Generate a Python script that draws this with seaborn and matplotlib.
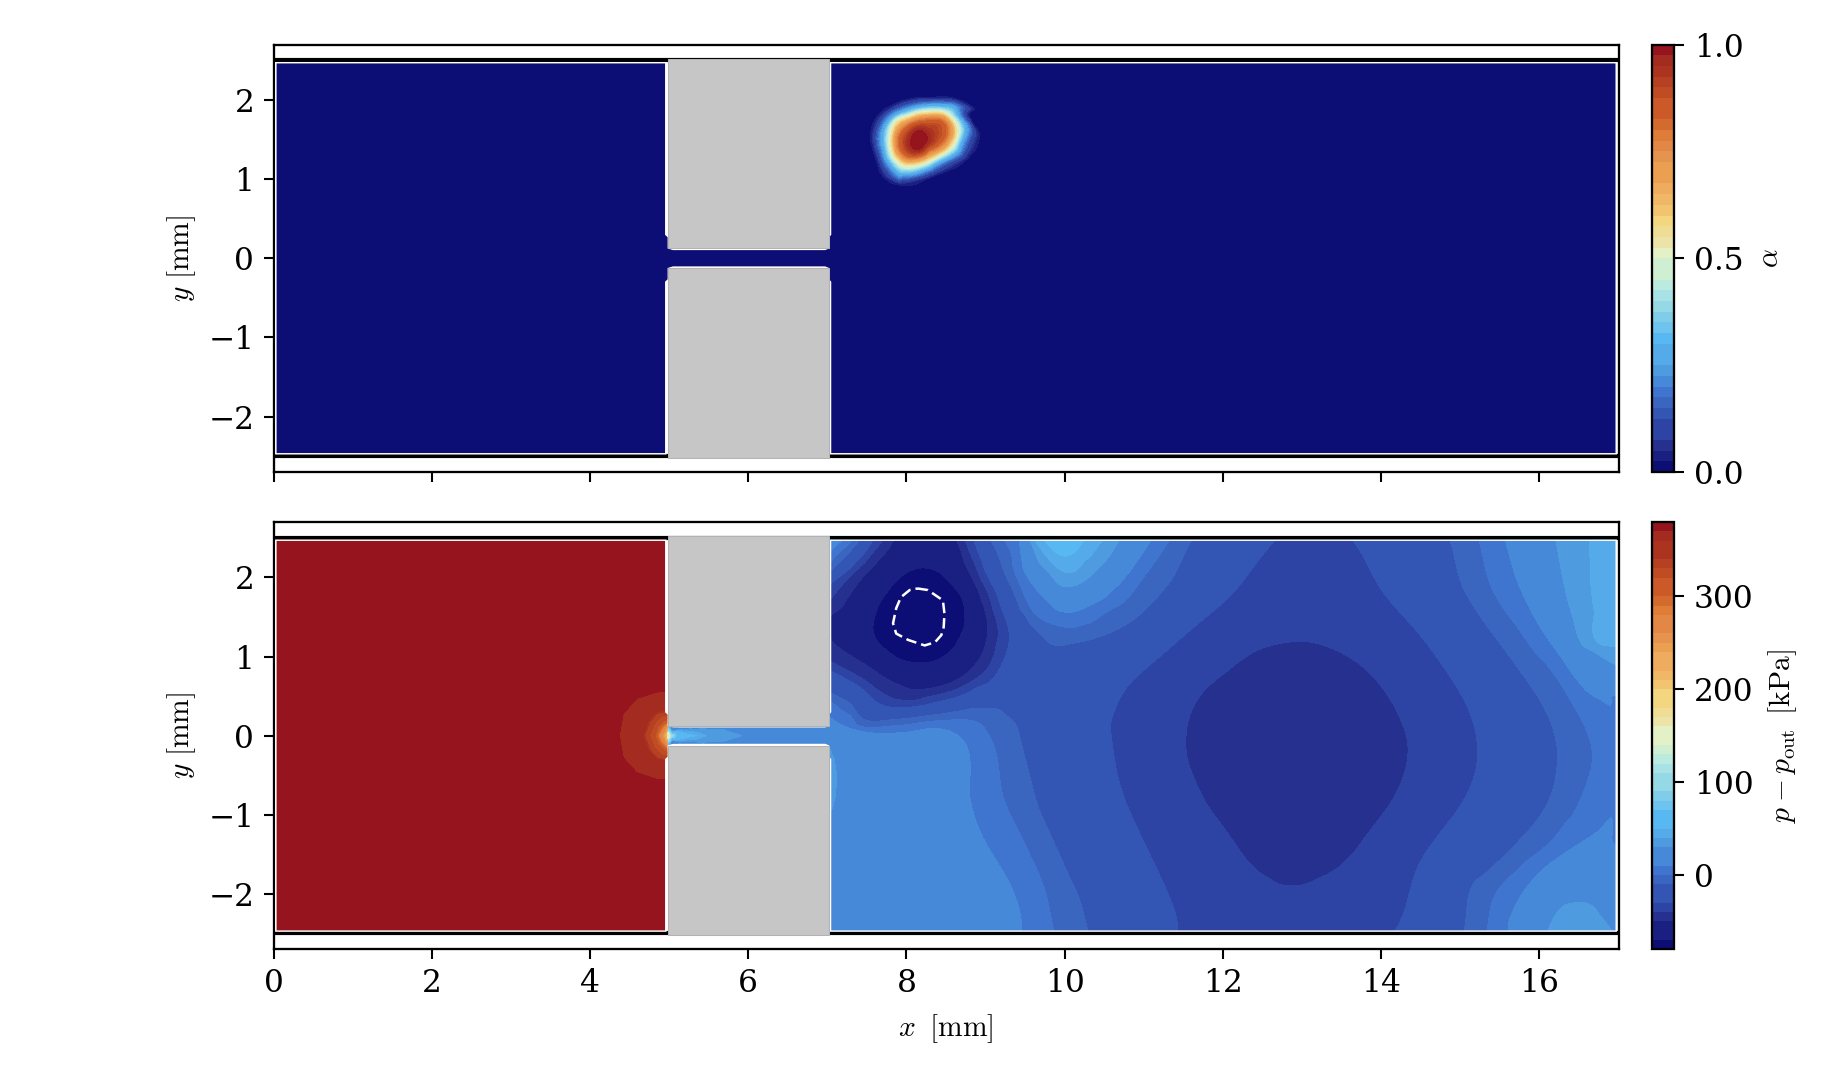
import numpy as np
import matplotlib
matplotlib.use("Agg")
import matplotlib.pyplot as plt
from matplotlib.colors import ListedColormap, BoundaryNorm
from matplotlib.patches import Polygon, Rectangle
from matplotlib.tri import Triangulation, UniformTriRefiner, CubicTriInterpolator
import seaborn as sns

# Shared discrete colour bands, lowest to highest
band_colors = [
    "#0c0e76", "#1a2082", "#25308f", "#2d44a4", "#3355b3", "#3a66c0", "#3f75cf",
    "#4789d9", "#4f9be0", "#55abea", "#58b9f2", "#6ec4ee", "#80cde9", "#95d9e6",
    "#a8e2e6", "#bbeadf", "#d0efd2", "#e4f1c6", "#ece3a8", "#efdd96", "#f4d580",
    "#f3c470", "#f0b866", "#efab5e", "#eaa050", "#e69350", "#e38746", "#df7c38",
    "#d46b2e", "#cc5a28", "#c04c24", "#b54022", "#ab3320", "#a32b20", "#95141e",
]

alpha_levels = [0, .025, .05, .075, .125, .15, .175, .2, .225, .25, .3, .325, .35, .375,
                .4, .425, .45, .5, .525, .55, .575, .6, .625, .65, .675, .725, .75, .775,
                .8, .825, .875, .9, .925, .95, .975, 1]
p_levels = [-80, -70, -50, -40, -30, -10, 0, 10, 30, 40, 50, 70, 80, 90, 110, 120, 130, 140,
            160, 170, 180, 200, 210, 220, 240, 250, 260, 280, 290, 300, 320, 330, 340, 360,
            370, 380]

x_ticks = [0, 2, 4, 6, 8, 10, 12, 14, 16]
y_ticks = [-2, -1, 0, 1, 2]
alpha_ticks = [0.0, 0.5, 1.0]
p_ticks = [0, 100, 200, 300]

# Volume fraction sampled around the bubble
alpha_x = [7.0, 9.4, 9.4, 7.0,
           7.40, 7.50, 7.85, 8.10, 8.34, 8.65, 8.92, 9.07, 8.88, 8.38, 7.88, 7.60, 7.47,
           7.54, 7.62, 7.91, 8.10, 8.34, 8.59, 8.80, 8.93, 8.76, 8.34, 7.91, 7.70, 7.60,
           7.68, 7.79, 8.00, 8.21, 8.40, 8.59, 8.76, 8.69, 8.34, 7.91, 7.77,
           7.79, 7.87, 8.23, 8.53, 8.65, 8.59, 8.27, 8.00, 7.85,
           7.87, 7.98, 8.23, 8.48, 8.55, 8.46, 8.21, 8.00, 7.90,
           8.02, 8.15, 8.29, 8.27, 8.15, 8.04, 8.15]
alpha_y = [2.4, 2.4, 0.5, 0.5,
           1.54, 1.88, 2.12, 2.17, 2.18, 2.17, 1.88, 1.54, 1.15, 0.90, 0.78, 0.90, 1.22,
           1.54, 1.79, 1.98, 2.03, 2.04, 2.03, 1.79, 1.54, 1.24, 1.03, 0.92, 1.03, 1.28,
           1.54, 1.77, 1.88, 1.93, 1.94, 1.92, 1.66, 1.41, 1.16, 1.05, 1.20,
           1.49, 1.73, 1.85, 1.81, 1.62, 1.43, 1.22, 1.16, 1.26,
           1.49, 1.68, 1.77, 1.75, 1.60, 1.43, 1.28, 1.26, 1.35,
           1.49, 1.64, 1.58, 1.45, 1.35, 1.39, 1.49]
alpha_v = [0] * 17 + [0.02] * 13 + [0.25] * 11 + [0.5] * 9 + [0.75] * 9 + [0.95] * 6 + [1.0]

# Pressure upstream of the orifice plate
up_x = [0, 0, 0, 4.96, 4.96, 4.0, 4.2, 4.2, 4.5, 4.5, 4.98, 4.98,
        4.37, 4.42, 4.42, 4.59, 4.59, 4.84, 4.84, 4.98, 4.98,
        4.67, 4.74, 4.74, 4.84, 4.84, 4.98, 4.98,
        4.69, 4.76, 4.76, 4.85, 4.85, 4.98, 4.98,
        4.82, 4.86, 4.86, 4.94, 4.94, 4.98, 4.98,
        4.86, 4.925, 4.925, 4.99, 4.99,
        4.94, 4.985, 4.985, 5.0]
up_y = [2.5, -2.5, 0, 2.5, -2.5, 0, 0.6, -0.6, 0.8, -0.8, 0.9, -0.9,
        0, .28, -.28, .47, -.47, .55, -.55, .56, -.56,
        0, .19, -.19, .30, -.30, .33, -.33,
        0, .18, -.18, .28, -.28, .31, -.31,
        0, .11, -.11, .19, -.19, .22, -.22,
        0, .12, -.12, .17, -.17,
        0, .12, -.12, 0]
up_p = [375] * 12 + [370] * 9 + [360] * 7 + [340] * 7 + [320] * 7 + [290] * 5 + [240] * 3 + [170]

# Pressure along the orifice throat
throat_x = [4.98, 5.0, 5.0, 5.03, 5.03, 5.03, 5.1, 5.1, 5.1, 5.1, 5.1, 5.2, 5.2, 5.2, 5.2, 5.2,
            5.35, 5.35, 5.35, 5.35, 5.35, 5.5, 5.5, 5.5, 5.8, 5.8, 5.8, 6.1, 6.1, 6.1,
            7.05, 7.05, 7.05]
throat_y = [0, .14, -.14, 0, .14, -.14, 0, .05, -.05, .14, -.14, 0, .05, -.05, .14, -.14,
            0, .05, -.05, .14, -.14, 0, .14, -.14, 0, .14, -.14, 0, .14, -.14,
            0, .14, -.14]
throat_p = [170, 30, 30, 100, -50, -50, 65, 50, 50, -55, -55, 58, 42, 42, -5, -5,
            50, 38, 38, 12, 12, 38, 22, 22, 32, 24, 24, 27, 25, 25, 25, 25, 25]

# Pressure downstream, sampled along its isobars
down_x = [
    7.58, 7.66, 7.91, 8.21, 8.50, 8.71, 8.74, 8.63, 8.42, 8.21, 7.91, 7.66,
    7.87, 7.49, 7.02, 7.02, 7.49, 7.91, 8.12, 8.54, 8.88, 9.03, 8.92, 8.76, 8.61,
    7.72, 7.37, 7.02, 7.02, 7.41, 7.83, 8.12, 8.59, 8.97, 9.16, 9.05, 8.88, 8.73,
    7.60, 7.28, 7.02, 7.02, 7.37, 7.79, 8.33, 8.97, 9.30, 9.18, 8.99, 8.84,
    12.70, 12.12, 11.49, 10.86, 10.60, 10.60, 10.73, 11.07, 11.41, 11.44,
    13.61, 13.98, 14.61, 15.07, 15.22, 15.07, 14.53, 14.15,
    7.43, 7.20, 7.02, 7.02, 7.28, 7.47, 8.33, 9.13, 9.28, 9.43, 9.56, 9.68, 9.85, 10.02, 10.19, 10.30,
    9.05, 9.26, 9.51, 9.77, 10.02, 10.44, 10.86, 11.28, 11.62,
    14.86, 15.07, 15.66, 16.13, 16.23, 16.08, 15.41, 15.04,
    7.02, 7.28, 7.45, 7.91, 8.76, 9.05, 9.22, 9.51, 9.72, 9.87,
    7.34, 7.02, 9.22, 9.39, 9.60, 10.02, 10.65, 11.03, 11.34,
    15.23, 15.41, 16.08, 16.50, 16.65, 16.55, 16.08, 15.45, 15.33,
    7.02, 7.15, 7.45, 8.33, 8.67, 8.80, 8.92, 9.34, 9.45,
    7.22, 7.02, 9.42, 9.77, 10.02, 10.65, 11.11,
    15.56, 15.75, 16.21, 16.67, 16.84, 16.98, 16.98, 16.86, 16.67, 16.08, 15.62, 15.60,
    9.55, 9.77, 10.02, 10.44, 10.71,
    16.20, 16.42, 16.72, 16.98, 16.10, 16.29, 16.46, 16.65, 16.93,
    9.60, 9.81, 10.02, 10.27, 10.50, 16.63, 16.69, 16.76, 16.98,
    9.72, 10.02, 10.27,
    11.53, 11.70, 12.12, 12.54, 13.01, 13.43, 13.94, 14.23, 14.34, 14.19, 13.77, 13.26, 12.86, 12.54, 12.12, 11.70,
    8.20, 12.90, 10.00, 16.98, 16.98, 7.02, 7.02, 7.02, 8.00, 8.00, 16.98, 16.50,
    7.50, 8.50, 8.30, 7.50, 7.02, 8.90, 8.00, 7.50,
]
down_y = [
    1.42, 1.67, 1.99, 2.12, 1.99, 1.71, 1.46, 1.16, 0.97, 0.92, 0.97, 1.16,
    2.50, 2.05, 1.49, 1.25, 0.89, 0.64, 0.58, 0.66, 0.91, 1.33, 1.80, 2.13, 2.50,
    2.50, 2.09, 1.70, 0.95, 0.74, 0.47, 0.45, 0.57, 0.79, 1.29, 1.75, 2.13, 2.50,
    2.50, 2.11, 1.90, 0.83, 0.64, 0.36, 0.41, 0.64, 1.21, 1.67, 2.09, 2.50,
    2.50, 1.80, 1.25, 0.70, 0.24, -0.10, -0.73, -1.49, -2.29, -2.50,
    2.50, 1.88, 1.12, 0.41, -0.22, -0.77, -1.53, -2.50,
    2.50, 2.24, 2.07, 0.55, 0.41, 0.20, 0.26, 0.34, 0.24, -0.01, -0.52, -0.94, -1.32, -1.70, -2.08, -2.50,
    2.50, 2.01, 1.50, 1.21, 1.15, 1.25, 1.46, 1.88, 2.50,
    2.50, 1.80, 0.95, 0.20, -0.27, -0.90, -1.66, -2.50,
    0.45, 0.26, 0.11, 0.13, 0.20, -0.01, -0.77, -1.40, -1.87, -2.50,
    2.50, 2.17, 2.50, 2.01, 1.57, 1.37, 1.63, 2.05, 2.50,
    2.50, 1.84, 0.91, 0.26, -0.10, -0.73, -1.40, -1.99, -2.50,
    0.24, 0.15, 0.05, 0.09, -0.01, -0.77, -1.19, -1.95, -2.50,
    2.50, 2.32, 2.50, 1.71, 1.56, 1.88, 2.50,
    2.50, 1.88, 1.08, 0.51, 0.41, 0.51, -1.40, -1.07, -1.26, -1.66, -2.33, -2.50,
    2.50, 2.09, 1.88, 2.13, 2.50,
    2.50, 1.50, 1.04, 0.89, -2.50, -2.16, -2.11, -2.14, -2.50,
    2.50, 2.22, 2.06, 2.22, 2.50, 2.50, 1.59, 1.16, 1.12,
    2.50, 2.27, 2.50,
    -0.14, 0.49, 0.87, 1.12, 1.19, 1.08, 0.70, 0.24, -0.18, -0.73, -1.32, -1.78, -1.90, -1.78, -1.32, -0.69,
    1.50, -0.30, 2.50, 2.50, -0.20, 2.50, -2.50, 0.00, -1.00, -2.50, -2.50, -2.40,
    -1.50, -2.00, -0.50, -0.50, -1.80, -2.40, -0.10, -2.40,
]
down_p = (
    [-70] * 12 + [-50] * 13 + [-40] * 13 + [-30] * 12 + [-30] * 10 + [-30] * 8
    + [-10] * 16 + [-10] * 9 + [-10] * 8 + [0] * 10 + [0] * 9 + [0] * 9
    + [10] * 9 + [10] * 7 + [10] * 12 + [30] * 5 + [30] * 9 + [40] * 9 + [50] * 3
    + [-40] * 16
    + [-78, -47, 65, 45, 5, 25, 20, 25, 22, 20, 27, 33]
    + [20, 20, 20, 20, 20, 20, 20, 20]
)

# Gas-liquid interface in the pressure panel
interface_x = [8.14, 8.27, 8.46, 8.48, 8.47, 8.44, 8.36, 8.23, 8.02, 7.87, 7.83, 7.87, 7.93, 8.04, 8.14]
interface_y = [1.86, 1.84, 1.71, 1.54, 1.37, 1.27, 1.18, 1.14, 1.21, 1.29, 1.42, 1.61, 1.75, 1.84, 1.86]

# Fluid boundary, including the small recesses at the plate corners
fluid_x = [0.03, 4.958, 4.958, 4.99, 4.99, 5.05, 6.97, 7.015, 7.015, 7.04, 7.04, 16.97,
           16.97, 7.04, 7.04, 7.015, 7.015, 6.97, 5.05, 4.99, 4.99, 4.958, 4.958, 0.03]
fluid_y = [2.47, 2.47, 0.30, 0.27, 0.13, 0.112, 0.112, 0.13, 0.27, 0.30, 2.47, 2.47,
           -2.47, -2.47, -0.30, -0.27, -0.13, -0.112, -0.112, -0.13, -0.27, -0.30, -2.47, -2.47]

sns.set_theme(style="ticks", rc={
    "axes.linewidth": 0.55,
    "xtick.major.width": 0.5, "ytick.major.width": 0.5,
    "xtick.major.size": 2.4, "ytick.major.size": 2.4,
    "xtick.major.pad": 2.2, "ytick.major.pad": 2.2,
    "xtick.labelsize": 7.5, "ytick.labelsize": 7.5,
    "axes.labelsize": 7.1,
    "axes.edgecolor": "black", "xtick.color": "black", "ytick.color": "black",
    "text.color": "black", "axes.labelcolor": "black",
})
plt.rcParams["font.family"] = ["DejaVu Serif"]
plt.rcParams["mathtext.fontset"] = "cm"

band_cmap = ListedColormap(sns.color_palette(band_colors))
W, H = 1839, 1080
fig = plt.figure(figsize=(W / 300, H / 300), dpi=300)


def axes_box(left, top, right, bottom):
    return [left / W, 1 - bottom / H, (right - left) / W, (bottom - top) / H]


ax_a = fig.add_axes(axes_box(273.5, 44.5, 1618.6, 472))
ax_p = fig.add_axes(axes_box(273.5, 522, 1618.6, 949.3))
cax_a = fig.add_axes(axes_box(1651.6, 44.5, 1674.5, 472))
cax_p = fig.add_axes(axes_box(1651.6, 522, 1674.5, 949.3))


def smooth(x, y, v):
    tri = Triangulation(np.asarray(x, float), np.asarray(y, float))
    z = np.asarray(v, float)
    interp = CubicTriInterpolator(tri, z, kind="geom")
    return UniformTriRefiner(tri).refine_field(z, triinterpolator=interp, subdiv=3)


def build_panel(ax):
    """Draw walls and the fluid outline; returns the patch that clips the fields."""
    ax.set_xlim(0, 17)
    ax.set_ylim(-2.7, 2.7)
    for wall_y in (2.5, -2.5):
        ax.plot([0, 17], [wall_y, wall_y], color="black", lw=1.0, solid_capstyle="butt", zorder=1)
    patch = Polygon(np.column_stack([fluid_x, fluid_y]), closed=True,
                    facecolor="none", edgecolor="white", lw=0.35, zorder=4)
    ax.add_patch(patch)
    return patch


def add_plate(ax):
    for y0, h in ((0.128, 2.392), (-2.52, 2.392)):
        ax.add_patch(Rectangle((4.987, y0), 2.03, h, facecolor="#c6c6c6",
                               edgecolor="#b3b3b3", lw=0.25, zorder=5))


def finish_axes(ax):
    ax.set_xticks(x_ticks)
    ax.set_yticks(y_ticks)
    ax.set_ylabel(r"$y\ \mathrm{[mm]}$", labelpad=2.5)


# Upper panel: volume fraction
norm_a = BoundaryNorm(alpha_levels, len(band_colors))
clip_a = build_panel(ax_a)
ax_a.add_patch(Polygon(np.column_stack([fluid_x, fluid_y]), closed=True, facecolor=band_colors[0],
                       edgecolor="none", zorder=2))
tri_a, val_a = smooth(alpha_x, alpha_y, alpha_v)
cs_a = ax_a.tricontourf(tri_a, np.clip(val_a, 0, 1), levels=alpha_levels, cmap=band_cmap, norm=norm_a, zorder=3)
cs_a.set_clip_path(clip_a)
add_plate(ax_a)
finish_axes(ax_a)
ax_a.tick_params(axis="x", labelbottom=False)

# Lower panel: pressure
norm_p = BoundaryNorm(p_levels, len(band_colors))
clip_p = build_panel(ax_p)
cs_p = None
for xs, ys, ps, refine in ((up_x, up_y, up_p, False), (throat_x, throat_y, throat_p, False),
                           (down_x, down_y, down_p, True)):
    if refine:
        tri, val = smooth(xs, ys, ps)
    else:
        tri, val = Triangulation(np.asarray(xs, float), np.asarray(ys, float)), np.asarray(ps, float)
    cs_p = ax_p.tricontourf(tri, np.clip(val, -79.9, 379.9), levels=p_levels, cmap=band_cmap,
                            norm=norm_p, zorder=3)
    cs_p.set_clip_path(clip_p)
add_plate(ax_p)
sns.lineplot(x=interface_x, y=interface_y, sort=False, estimator=None, ax=ax_p, color="white",
             lw=0.6, dashes=(4.2, 2.0), zorder=6)
finish_axes(ax_p)
ax_p.set_xlabel(r"$x\ \:\mathrm{[mm]}$", labelpad=3)

# Colour bars
cbar_a = fig.colorbar(cs_a, cax=cax_a, spacing="proportional", ticks=alpha_ticks)
cbar_a.set_label(r"$\alpha$", labelpad=3)
cbar_p = fig.colorbar(cs_p, cax=cax_p, spacing="proportional", ticks=p_ticks)
cbar_p.set_label(r"$p - p_\mathrm{out}\ \,\mathrm{[kPa]}$", labelpad=3)
for cb in (cbar_a, cbar_p):
    cb.outline.set_linewidth(0.55)
    cb.ax.minorticks_off()

fig.savefig("out.png", dpi=300, facecolor="white")
